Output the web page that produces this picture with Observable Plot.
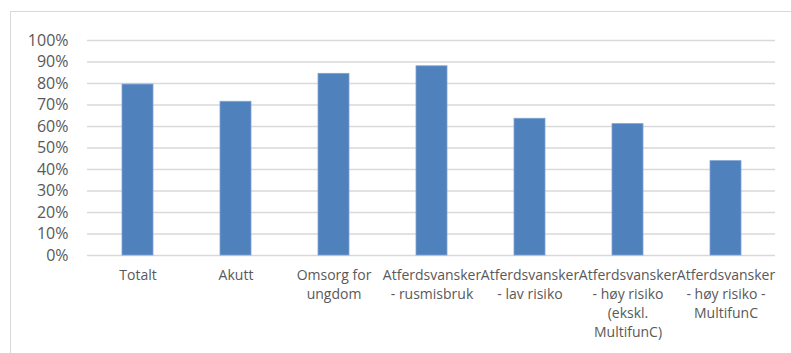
<!DOCTYPE html>
<html>
<head>
<meta charset="utf-8">
<script src="https://cdn.jsdelivr.net/npm/d3@7"></script>
<script src="https://cdn.jsdelivr.net/npm/@observablehq/plot@0.6"></script>
<style>
  html, body { margin: 0; padding: 0; background: #fff; overflow: hidden; }
  #wrap { position: relative; width: 791px; height: 353px; }
  #frame { position: absolute; left: 10px; top: 11px; width: 800px; height: 360px;
           border-top: 1px solid #d9d9d9; border-left: 1px solid #d9d9d9; }
  #chart { position: absolute; left: 0; top: 0; }
</style>
</head>
<body>
<div id="wrap"><div id="frame"></div><div id="chart"></div></div>
<script>
const categories = ["Totalt", "Akutt", "Omsorg for ungdom", "Atferdsvansker - rusmisbruk",
  "Atferdsvansker - lav risiko", "Atferdsvansker - høy risiko (ekskl. MultifunC)",
  "Atferdsvansker - høy risiko - MultifunC"];
const labelLines = ["Totalt", "Akutt", "Omsorg for\nungdom", "Atferdsvansker\n- rusmisbruk",
  "Atferdsvansker\n- lav risiko", "Atferdsvansker\n- høy risiko\n(ekskl.\nMultifunC)",
  "Atferdsvansker\n- høy risiko -\nMultifunC"];
const values = [0.795, 0.715, 0.845, 0.88, 0.636, 0.611, 0.439];
const yTicks = [0, 0.1, 0.2, 0.3, 0.4, 0.5, 0.6, 0.7, 0.8, 0.9, 1.0];

const data = categories.map((c, i) => ({category: c, value: values[i]}));
const labelOf = new Map(categories.map((c, i) => [c, labelLines[i]]));

const chart = Plot.plot({
  width: 791,
  height: 353,
  marginLeft: 87,
  marginRight: 16,
  marginTop: 40,
  marginBottom: 98,
  style: {fontFamily: "'Open Sans', sans-serif", fontSize: "14px", color: "#595959", background: "transparent"},
  x: {domain: categories, paddingInner: 0.685, paddingOuter: 0.3425, align: 0.5},
  y: {domain: [0, 1]},
  marks: [
    Plot.ruleY(yTicks, {stroke: "#d9d9d9", strokeWidth: 1.5}),
    Plot.barY(data, {x: "category", y: "value", fill: "#4f81bd", stroke: "#7fa3d1", strokeWidth: 0.8}),
    Plot.axisY(yTicks, {tickSize: 0, tickPadding: 19, tickFormat: d => Math.round(d * 100) + "%", fill: "#595959", fontSize: 16, label: null}),
    Plot.axisX({tickSize: 0, tickPadding: 11, tickFormat: d => labelOf.get(d), lineHeight: 1.36, fill: "#595959", fontSize: 14, label: null})
  ]
});
document.getElementById("chart").appendChild(chart);
</script>
</body>
</html>
